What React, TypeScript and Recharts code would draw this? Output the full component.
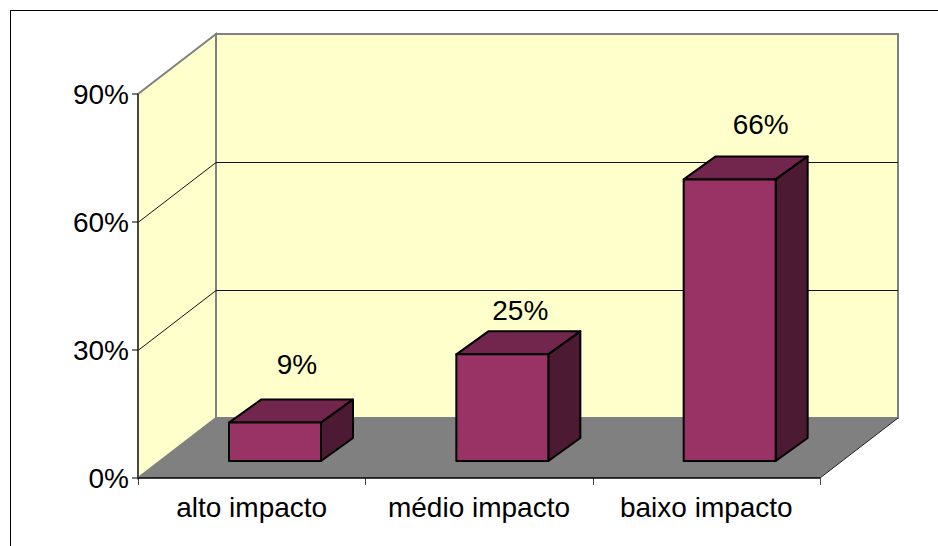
import React from 'react';
import { Bar, BarChart, Customized, LabelList, XAxis, YAxis } from 'recharts';

const categories = ['alto impacto', 'médio impacto', 'baixo impacto'];
const shares = [9, 25, 66];
const yTicks = [0, 30, 60, 90];

const rows = categories.map((name, i) => ({ name, share: shares[i] }));

const WIDTH = 938;
const HEIGHT = 546;
const FONT = '"Liberation Sans", Arial, sans-serif';
const FONT_SIZE = 28;

// front plane of the plot, the box the axes are drawn on
const PLOT = { left: 138, top: 94, right: 820, bottom: 478 };
const Y_MAX = 90;
// how far the back wall sits behind the front plane
const DEPTH = { x: 78, y: -60 };
// bars stand a little way into the floor and have their own depth
const BAR_SHIFT = { x: 23, y: -17 };
const BAR_DEPTH = { x: 32, y: -23 };
const BAR_WIDTH = 92;
// label nudges from the top centre of each bar
const LABEL_NUDGE = [
  { dx: 45, dy: -75 },
  { dx: 41, dy: -61 },
  { dx: 54, dy: -72 },
];

const yAt = (v: number) => PLOT.bottom - (v / Y_MAX) * (PLOT.bottom - PLOT.top);
const pts = (list: number[][]) => list.map((p) => p.join(',')).join(' ');

function Box3D({ x, y, width, height }: any) {
  const l = x + BAR_SHIFT.x;
  const r = l + width;
  const t = y + BAR_SHIFT.y;
  const b = t + height;
  const dx = BAR_DEPTH.x;
  const dy = BAR_DEPTH.y;
  const line = { stroke: '#000', strokeWidth: 2, strokeLinejoin: 'round' as const };
  return (
    <g>
      <polygon points={pts([[l, t], [l + dx, t + dy], [r + dx, t + dy], [r, t]])} fill="#73264d" {...line} />
      <polygon points={pts([[r, t], [r + dx, t + dy], [r + dx, b + dy], [r, b]])} fill="#4d1a33" {...line} />
      <rect x={l} y={t} width={width} height={height} fill="#993366" {...line} />
    </g>
  );
}

function ShareLabel({ x, y, width, index, value }: any) {
  const n = LABEL_NUDGE[index];
  return (
    <text x={x + width / 2 + n.dx} y={y + n.dy} textAnchor="middle" dominantBaseline="central" fontFamily={FONT} fontSize={FONT_SIZE} fill="#000">
      {value}%
    </text>
  );
}

// chart frame, side wall, back wall, floor and the gridlines on them
function Room() {
  const { left, right, top, bottom } = PLOT;
  const bx = DEPTH.x;
  const by = DEPTH.y;
  const band = (right - left) / categories.length;
  return (
    <g>
      <rect x={10.5} y={10.5} width={WIDTH + 40} height={HEIGHT + 40} fill="#fff" stroke="#000" />
      <polygon points={pts([[left + bx, top + by], [right + bx, top + by], [right + bx, bottom + by], [left + bx, bottom + by]])} fill="#ffffcc" stroke="#808080" strokeWidth={2} />
      <polygon points={pts([[left, top], [left + bx, top + by], [left + bx, bottom + by], [left, bottom]])} fill="#ffffcc" stroke="#808080" strokeWidth={2} />
      <polygon points={pts([[left, bottom], [left + bx, bottom + by], [right + bx, bottom + by], [right, bottom]])} fill="#808080" />
      <line x1={right} y1={bottom} x2={right + bx} y2={bottom + by} stroke="#222" />
      {yTicks.filter((v) => v > 0 && v < Y_MAX).map((v) => (
        <polyline key={v} points={pts([[left, yAt(v) + 0.5], [left + bx, yAt(v) + by + 0.5], [right + bx, yAt(v) + by + 0.5]])} fill="none" stroke="#111" />
      ))}
      {categories.concat('').map((_, i) => (
        <line key={i} x1={Math.round(left + band * i) + 0.5} y1={bottom} x2={Math.round(left + band * i) + 0.5} y2={bottom + 7} stroke="#444" />
      ))}
    </g>
  );
}

export default function App() {
  return (
    <div style={{ position: 'absolute', left: 0, top: 0 }}>
      <BarChart
        width={WIDTH}
        height={HEIGHT}
        data={rows}
        margin={{ top: PLOT.top, right: WIDTH - PLOT.right, bottom: 28, left: 78 }}
        barCategoryGap={0}
      >
        <Customized component={Room} />
        <XAxis
          dataKey="name"
          height={40}
          interval={0}
          tickLine={false}
          axisLine={{ stroke: '#000', strokeWidth: 1.5 }}
          tickMargin={13}
          tick={{ fontFamily: FONT, fontSize: FONT_SIZE, fill: '#000' }}
        />
        <YAxis
          width={60}
          domain={[0, Y_MAX]}
          ticks={yTicks}
          interval={0}
          tickFormatter={(v: number) => `${v}%`}
          tickSize={6}
          tickMargin={3}
          axisLine={{ stroke: '#333', strokeWidth: 1.5 }}
          tickLine={{ stroke: '#000' }}
          tick={{ fontFamily: FONT, fontSize: FONT_SIZE, fill: '#000' }}
        />
        <Bar dataKey="share" barSize={BAR_WIDTH} shape={Box3D} isAnimationActive={false}>
          <LabelList dataKey="share" content={ShareLabel} />
        </Bar>
      </BarChart>
    </div>
  );
}
